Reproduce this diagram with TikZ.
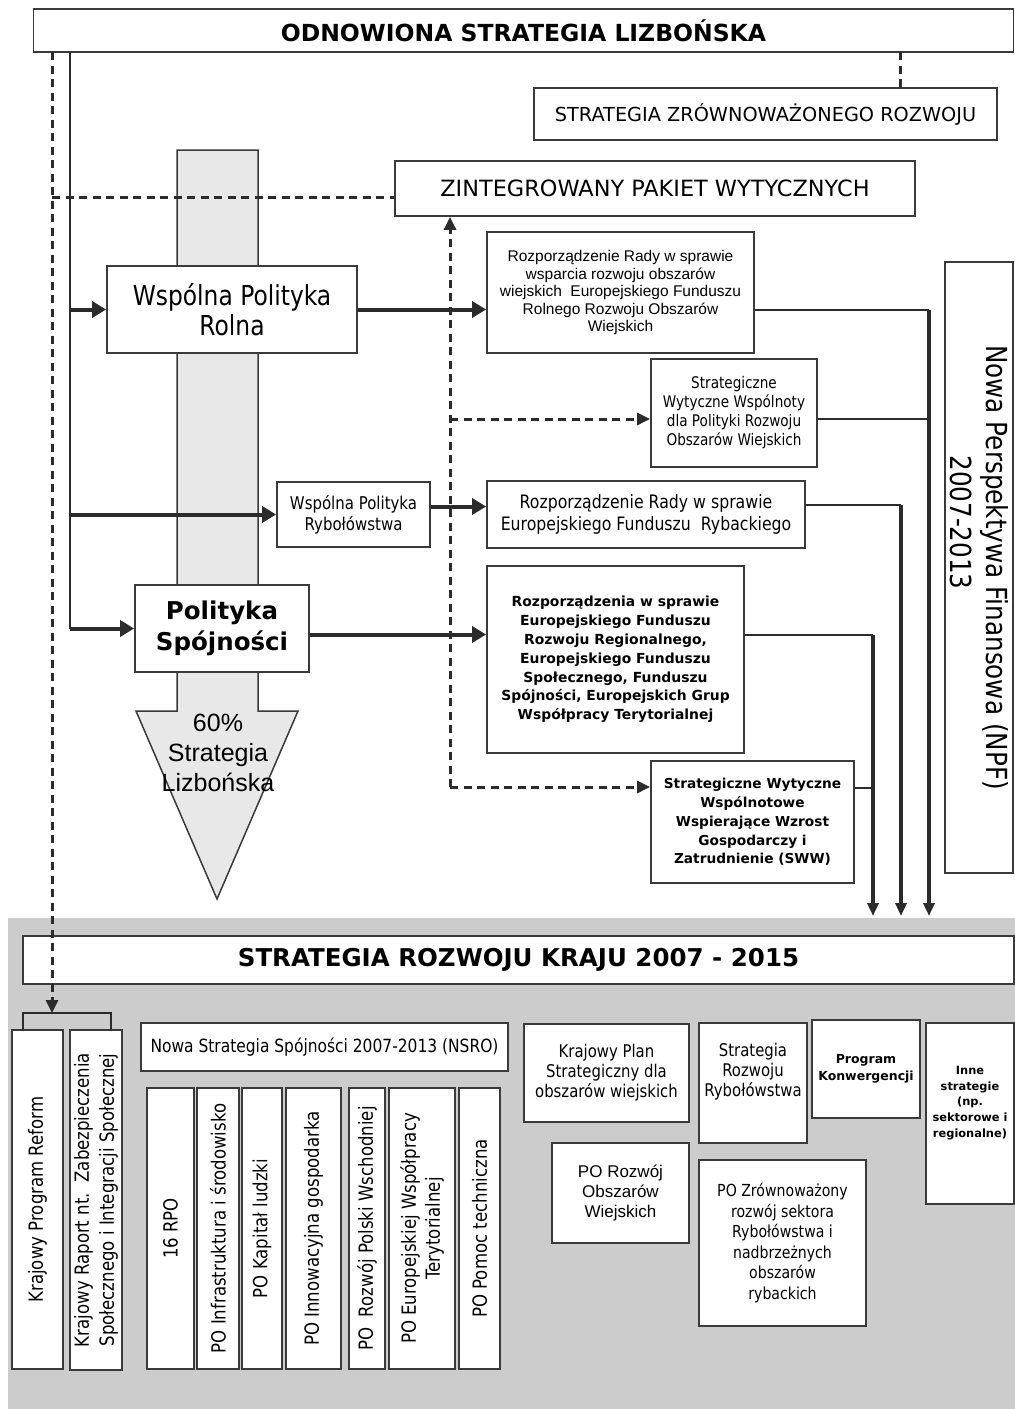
\documentclass[tikz,border=0pt]{standalone}
\usepackage{fontspec}
\setmainfont[FakeStretch=0.85]{DejaVu Sans}
\newfontfamily\capsfont{DejaVu Sans}
\newfontfamily\arialfont{Liberation Sans}
\usetikzlibrary{arrows.meta,positioning}
\definecolor{linegray}{HTML}{2B2B2B}
\definecolor{boxgray}{HTML}{3A3A3A}
\definecolor{bggray}{HTML}{CCCCCC}
\definecolor{colgray}{HTML}{E8E8E8}
\newcommand{\fsz}[2]{\fontsize{#1}{#2}\selectfont}
\begin{document}
\begin{tikzpicture}[x=1pt, y=-1pt,
  box/.style={draw=boxgray, fill=white, line width=1.8pt, align=center, inner sep=2pt},
  vbox/.style={box, rotate=90},
  arr/.style={draw=linegray, line width=4pt, -{Triangle[length=14pt,width=16pt]}},
  dsh/.style={draw=linegray, line width=3pt, dash pattern=on 8pt off 5.5pt},
  darr/.style={dsh, -{Triangle[length=13pt,width=12pt]}},
  thinln/.style={draw=linegray, line width=2pt},
  vln/.style={draw=linegray, line width=3.2pt, -{Triangle[length=13pt,width=11pt]}}]
  \useasboundingbox (0,0) rectangle (1015,1409);
  % Background of the national part
  \fill[bggray] (8,918) rectangle (1015,1409);
  % Column with the arrow
  \draw[draw=boxgray, fill=colgray, line width=1.5pt] (177,150) -- (258,150) -- (258,711) -- (298,711) -- (217,899) -- (136,711) -- (177,711) -- cycle;
  \node (lbl) [font=\arialfont\fsz{25}{30}, align=center] at (218,753) {60\%\\Strategia\\Lizbońska};
  % Nodes
  \node (lis) [box, minimum width=980, minimum height=43, font=\capsfont\bfseries\fsz{23.5}{28}] at (523.5,30.5) {ODNOWIONA STRATEGIA LIZBOŃSKA};
  \node (szr) [box, minimum width=463, minimum height=52, font=\capsfont\fsz{19.3}{23}] at (765.5,114) {STRATEGIA ZRÓWNOWAŻONEGO ROZWOJU};
  \node (zpw) [box, minimum width=520, minimum height=55, font=\capsfont\fsz{22.4}{27}] at (655,188.5) {ZINTEGROWANY PAKIET WYTYCZNYCH};
  \node (wpr) [box, minimum width=250, minimum height=87, font=\fsz{27.5}{30}] at (232,309.5) {Wspólna Polityka\\Rolna};
  \node (wprr) [box, minimum width=153, minimum height=65, font=\fsz{17.6}{21}] at (353.5,514.5) {Wspólna Polityka\\Rybołówstwa};
  \node (ps) [box, minimum width=174, minimum height=87, font=\capsfont\bfseries\fsz{24.5}{31}] at (222,628.5) {Polityka\\Spójności};
  \node (rozw) [box, minimum width=267, minimum height=121, font=\arialfont\fsz{15.5}{17.5}] at (620.5,292.5) {Rozporządzenie Rady w sprawie\\wsparcia rozwoju obszarów\\wiejskich\ \ Europejskiego Funduszu\\Rolnego Rozwoju Obszarów\\Wiejskich};
  \node (swr) [box, minimum width=166, minimum height=108, font=\fsz{16}{19}] at (734,413) {Strategiczne\\Wytyczne Wspólnoty\\dla Polityki Rozwoju\\Obszarów Wiejskich};
  \node (efr) [box, minimum width=318, minimum height=67, font=\fsz{18.5}{22}] at (646,514.5) {Rozporządzenie Rady w sprawie\\Europejskiego Funduszu\ \ Rybackiego};
  \node (rozs) [box, minimum width=257, minimum height=187, font=\capsfont\bfseries\fsz{13.9}{18.8}] at (615.5,659.5) {Rozporządzenia w sprawie\\Europejskiego Funduszu\\Rozwoju Regionalnego,\\Europejskiego Funduszu\\Społecznego, Funduszu\\Spójności, Europejskich Grup\\Współpracy Terytorialnej};
  \node (sww) [box, minimum width=203, minimum height=122, font=\capsfont\bfseries\fsz{13.7}{18.8}] at (752.5,822) {Strategiczne Wytyczne\\Wspólnotowe\\Wspierające Wzrost\\Gospodarczy i\\Zatrudnienie (SWW)};
  \node (npf) [box, rotate=-90, minimum width=611, minimum height=68, font=\fsz{29}{36}] at (979,567.5) {Nowa Perspektywa Finansowa (NPF)\\2007-2013\hspace*{90pt}};
  \node (srk) [box, minimum width=991, minimum height=48, font=\capsfont\bfseries\fsz{24.5}{29}] at (518.5,960) {STRATEGIA ROZWOJU KRAJU 2007 - 2015};
  \node (kpr) [vbox, minimum width=339, minimum height=51, font=\fsz{19.5}{24}] at (37.5,1199.5) {Krajowy Program Reform};
  \node (krs) [vbox, minimum width=340, minimum height=52, font=\fsz{19.5}{25}] at (96,1200) {Krajowy Raport nt.\ \ Zabezpieczenia\\Społecznego i Integracji Społecznej};
  \node (nsro) [box, minimum width=367, minimum height=48, font=\fsz{18.2}{22}] at (324.5,1047) {Nowa Strategia Spójności 2007-2013 (NSRO)};
  \node (rpo) [vbox, minimum width=281, minimum height=47, font=\fsz{19.5}{24}] at (170.5,1228.5) {16 RPO};
  \node (poi) [vbox, minimum width=281, minimum height=42, font=\fsz{19.5}{24}] at (218,1228.5) {PO Infrastruktura i środowisko};
  \node (pok) [vbox, minimum width=281, minimum height=40, font=\fsz{19.5}{24}] at (262,1228.5) {PO Kapitał ludzki};
  \node (poig) [vbox, minimum width=281, minimum height=55, font=\fsz{19.5}{24}] at (313.5,1228.5) {PO Innowacyjna gospodarka};
  \node (popw) [vbox, minimum width=281, minimum height=36, font=\fsz{19.5}{24}] at (367,1228.5) {PO\ \ Rozwój Polski Wschodniej};
  \node (poewt) [vbox, minimum width=281, minimum height=66, font=\fsz{19.5}{24}] at (422,1228.5) {PO Europejskiej Współpracy\\Terytorialnej};
  \node (popt) [vbox, minimum width=281, minimum height=41, font=\fsz{19.5}{24}] at (479.5,1228.5) {PO Pomoc techniczna};
  \node (kps) [box, minimum width=165, minimum height=98, font=\fsz{17.5}{20}] at (606.5,1073) {Krajowy Plan\\Strategiczny dla\\obszarów wiejskich};
  \node (srr) [box, minimum width=108, minimum height=120, label={[font=\fsz{17.5}{20}, align=center, anchor=center, yshift=11pt]center:{Strategia\\Rozwoju\\Rybołówstwa}}] at (753,1083) {};
  \node (pk) [box, minimum width=108, minimum height=98, font=\capsfont\bfseries\fsz{12.5}{17.5}] at (866,1069) {Program\\Konwergencji};
  \node (inne) [box, minimum width=88, minimum height=181, label={[font=\capsfont\bfseries\fsz{11.4}{15.7}, align=center, anchor=center, yshift=10.5pt]center:{Inne\\strategie\\(np.\\sektorowe i\\regionalne)}}] at (970,1113.5) {};
  \node (porw) [box, minimum width=137, minimum height=100, font=\arialfont\fsz{17}{20}] at (620.5,1193) {PO Rozwój\\Obszarów\\Wiejskich};
  \node (pozr) [box, minimum width=167, minimum height=166, font=\fsz{16.6}{20.6}] at (782.5,1243) {PO Zrównoważony\\rozwój sektora\\Rybołówstwa i\\nadbrzeżnych\\obszarów\\rybackich};
  % Arrow
  \coordinate (trk) at (70,52);
  \draw[thinln] (trk) -- (trk |- ps.west);
  \draw[arr] (trk |- wpr.west) -- (wpr.west);
  \draw[arr] (trk |- wprr.west) -- (wprr.west);
  \draw[arr] (trk |- ps.west) -- (ps.west);

  \coordinate (dtr) at (52,52);
  \coordinate (brk) at (52,1013);
  \coordinate (dzp) at (52,197);
  \coordinate (brl) at (23,1030);
  \coordinate (brr) at (111,1030);
  \draw[darr] (dtr) -- (brk);
  \draw[dsh] (dzp) -- (dzp -| zpw.west);
  \draw[thinln] (brl) |- (brk) -| (brr);

  \coordinate (dsz) at (900,52);
  \draw[dsh] (dsz) -- (dsz |- szr.north);

  \coordinate (dv) at (450,787);
  \coordinate (dvb) at (450,419);
  \draw[darr] (dv) -- (dv |- zpw.south);
  \draw[darr] (dvb) -- (dvb -| swr.west);
  \draw[darr] (dv) -- (dv -| sww.west);

  \coordinate (wre) at ([yshift=8pt]wprr.east);
  \coordinate (pse) at ([yshift=-6pt]ps.east);
  \draw[arr] (wpr.east) -- (wpr.east -| rozw.west);
  \draw[arr] (wre) -- (wre -| efr.west);
  \draw[arr] (pse) -- (pse -| rozs.west);

  \coordinate (t1) at (929,916);
  \coordinate (t2) at (901,916);
  \coordinate (t3) at (873,916);
  \coordinate (r1) at ([yshift=-17.5pt]rozw.east);
  \coordinate (r2) at ([yshift=-6pt]swr.east);
  \coordinate (r3) at ([yshift=9.5pt]efr.east);
  \coordinate (r4) at ([yshift=24.5pt]rozs.east);
  \coordinate (r5) at ([yshift=34pt]sww.east);
  \draw[thinln] (r1) -- (r1 -| t1);
  \draw[thinln] (r2) -- (r2 -| t1);
  \draw[vln] (r1 -| t1) -- (t1);
  \draw[thinln] (r3) -- (r3 -| t2);
  \draw[vln] (r3 -| t2) -- (t2);
  \draw[thinln] (r4) -- (r4 -| t3);
  \draw[thinln] (r5) -- (r5 -| t3);
  \draw[vln] (r4 -| t3) -- (t3);
\end{tikzpicture}
\end{document}
